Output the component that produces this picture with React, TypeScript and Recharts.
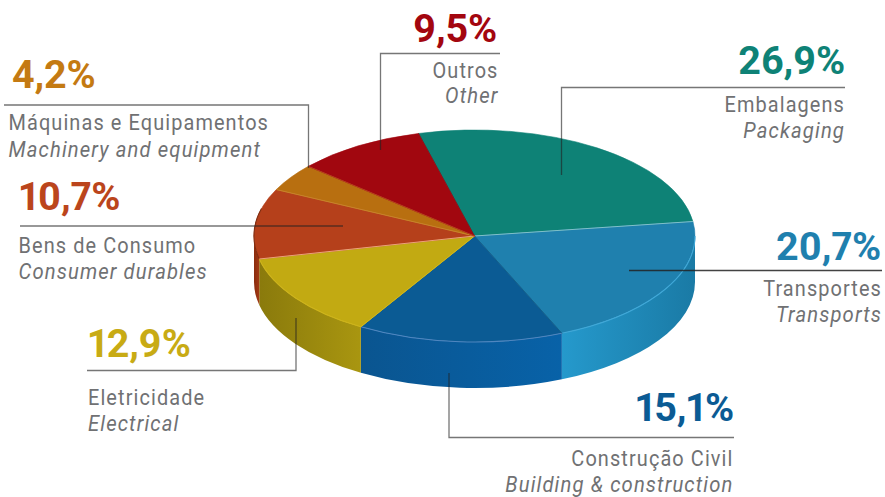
import React from "react";
import { PieChart, Pie } from "recharts";

const categoriesPt = ["Embalagens", "Transportes", "Construção Civil", "Eletricidade", "Bens de Consumo", "Máquinas e Equipamentos", "Outros"];
const categoriesEn = ["Packaging", "Transports", "Building & construction", "Electrical", "Consumer durables", "Machinery and equipment", "Other"];
const shares = [26.9, 20.7, 15.1, 12.9, 10.7, 4.2, 9.5];

const topColors = ["#0e8276", "#1f80ae", "#0b5b94", "#c2aa12", "#b5401b", "#b86f10", "#a1070f"];
const labelColors = ["#0e8276", "#1f80ae", "#0b5b94", "#c8ab14", "#bb451c", "#c47a12", "#a3060f"];
const wallStops = [
  ["#0e8276", "#0e8276"],
  ["#2599cc", "#1a7aa5"],
  ["#0a5590", "#0862a8"],
  ["#8a7a0c", "#a99610"],
  ["#8a2c0e", "#a23a14"],
  ["#8a5010", "#8a5010"],
  ["#800a0c", "#800a0c"],
];
const rimColors = ["#0e8276", "#3fa8d8", "#4f86c0", "#cdb31a", "#7f2c10", "#b86f10", "#a1070f"];
const seamColors = ["#0b5f58", "#7fc0c8", "#14608a", "#d4b818", "#eaa27a", "#c8822a", "#b5401b"];

const CX = 474.5;
const CY = 236;
const RX = 220.5;
const RATIO = 106 / 220.5;
const DEPTH = 46;
const START = 104.7;

type Lay = {
  anchor: "start" | "end";
  pctX: number;
  textX: number;
  pctY: number;
  ptY: number;
  enY: number;
  line: string;
  lineOpacity: number;
};
const layout: Lay[] = [
  { anchor: "end", pctX: 845, textX: 845, pctY: 74, ptY: 112, enY: 138, line: "845,87.5 561.5,87.5 561.5,175", lineOpacity: 0.62 },
  { anchor: "end", pctX: 881, textX: 882, pctY: 260, ptY: 296, enY: 322, line: "882,270.5 629,270.5", lineOpacity: 0.85 },
  { anchor: "end", pctX: 734, textX: 733.5, pctY: 421, ptY: 466, enY: 492, line: "734,437.5 449,437.5 449,373", lineOpacity: 0.62 },
  { anchor: "start", pctX: 88, textX: 88, pctY: 357, ptY: 405, enY: 431, line: "87,370.5 296,370.5 296,318", lineOpacity: 0.62 },
  { anchor: "start", pctX: 19, textX: 18.5, pctY: 210, ptY: 253, enY: 279, line: "20,226 343,226", lineOpacity: 0.62 },
  { anchor: "start", pctX: 12, textX: 8.5, pctY: 88, ptY: 130, enY: 157, line: "4,105 308.5,105 308.5,168", lineOpacity: 0.62 },
  { anchor: "end", pctX: 497, textX: 498.5, pctY: 42, ptY: 78, enY: 103, line: "500,53.5 380.5,53.5 380.5,150", lineOpacity: 0.62 },
];

const rad = (a: number) => (a * Math.PI) / 180;
const px = (cx: number, r: number, a: number) => cx + r * Math.cos(rad(a));
const py = (cy: number, r: number, a: number) => cy - r * RATIO * Math.sin(rad(a));

function TopSlice(p: any) {
  const { cx, cy, outerRadius: r, startAngle: s, endAngle: e, index } = p;
  const large = Math.abs(s - e) > 180 ? 1 : 0;
  const d = `M${cx},${cy} L${px(cx, r, s)},${py(cy, r, s)} A${r},${r * RATIO} 0 ${large} 1 ${px(cx, r, e)},${py(cy, r, e)} Z`;
  const lo = Math.max(e, -195);
  const hi = Math.min(s, 0);
  const rim =
    hi > lo ? `M${px(cx, r, hi)},${py(cy, r, hi)} A${r},${r * RATIO} 0 0 1 ${px(cx, r, lo)},${py(cy, r, lo)}` : null;
  return (
    <g>
      <path d={d} fill={topColors[index]} stroke={topColors[index]} strokeWidth={0.6} strokeLinejoin="round" />
      {rim && <path d={rim} fill="none" stroke={rimColors[index]} strokeWidth={1.1} />}
      <path d={`M${cx},${cy} L${px(cx, r, s)},${py(cy, r, s)}`} stroke={seamColors[index]} strokeWidth={1} fill="none" />
    </g>
  );
}

function WallSlice(p: any) {
  const { cx, cy, outerRadius: r, startAngle: s, endAngle: e, index } = p;
  const hi = Math.min(s, 0);
  const lo = Math.max(e, -180);
  if (hi <= lo) return <g />;
  const x0 = px(cx, r, hi);
  const y0 = py(cy, r, hi);
  const x1 = px(cx, r, lo);
  const y1 = py(cy, r, lo);
  const ry = r * RATIO;
  const d = `M${x0},${y0} A${r},${ry} 0 0 1 ${x1},${y1} L${x1},${y1 + DEPTH} A${r},${ry} 0 0 0 ${x0},${y0 + DEPTH} Z`;
  const id = `wall-${index}`;
  return (
    <g>
      <defs>
        <linearGradient id={id} x1="0" y1="0" x2="1" y2="0">
          <stop offset="0" stopColor={wallStops[index][0]} />
          <stop offset="1" stopColor={wallStops[index][1]} />
        </linearGradient>
      </defs>
      <path d={d} fill={`url(#${id})`} stroke="none" />
    </g>
  );
}

const pctText = (v: number) => `${v.toFixed(1).replace(".", ",")}%`;

function Squeezed({ x, y, anchor, italic, children }: any) {
  return (
    <text
      transform={`translate(${x},${y}) scale(${italic ? 0.9 : 0.885},1)`}
      textAnchor={anchor}
      fill="#707173"
      fontFamily="Roboto, sans-serif"
      fontSize={22.5}
      letterSpacing={1.25}
      fontStyle={italic ? "italic" : "normal"}
    >
      {children}
    </text>
  );
}

function SliceLabel(p: any) {
  const i = p.index;
  const l = layout[i];
  return (
    <g>
      <polyline points={l.line} fill="none" stroke="#222" strokeOpacity={l.lineOpacity} strokeWidth={1.3} />
      <text
        x={l.pctX}
        y={l.pctY}
        textAnchor={l.anchor}
        fill={labelColors[i]}
        fontFamily="Roboto, sans-serif"
        fontWeight={700}
        fontSize={39.5}
        letterSpacing={-0.2}
        style={{ fontVariantNumeric: "proportional-nums" }}
      >
        {pctText(shares[i])}
      </text>
      <Squeezed x={l.textX} y={l.ptY} anchor={l.anchor}>{categoriesPt[i]}</Squeezed>
      <Squeezed x={l.textX} y={l.enY} anchor={l.anchor} italic>{categoriesEn[i]}</Squeezed>
    </g>
  );
}

const rows = categoriesPt.map((name, i) => ({ name, value: shares[i] }));

export default function App() {
  return (
    <div style={{ position: "absolute", left: 0, top: 0, width: 885, height: 497, background: "#fff" }}>
      <PieChart width={885} height={497} margin={{ top: 0, right: 0, bottom: 0, left: 0 }}>
        <Pie
          data={rows}
          dataKey="value"
          cx={CX}
          cy={CY}
          outerRadius={RX}
          startAngle={START}
          endAngle={START - 360}
          isAnimationActive={false}
          shape={WallSlice}
          label={false}
          labelLine={false}
        />
        <Pie
          data={rows}
          dataKey="value"
          cx={CX}
          cy={CY}
          outerRadius={RX}
          startAngle={START}
          endAngle={START - 360}
          isAnimationActive={false}
          shape={TopSlice}
          label={SliceLabel}
          labelLine={false}
        />
      </PieChart>
    </div>
  );
}
